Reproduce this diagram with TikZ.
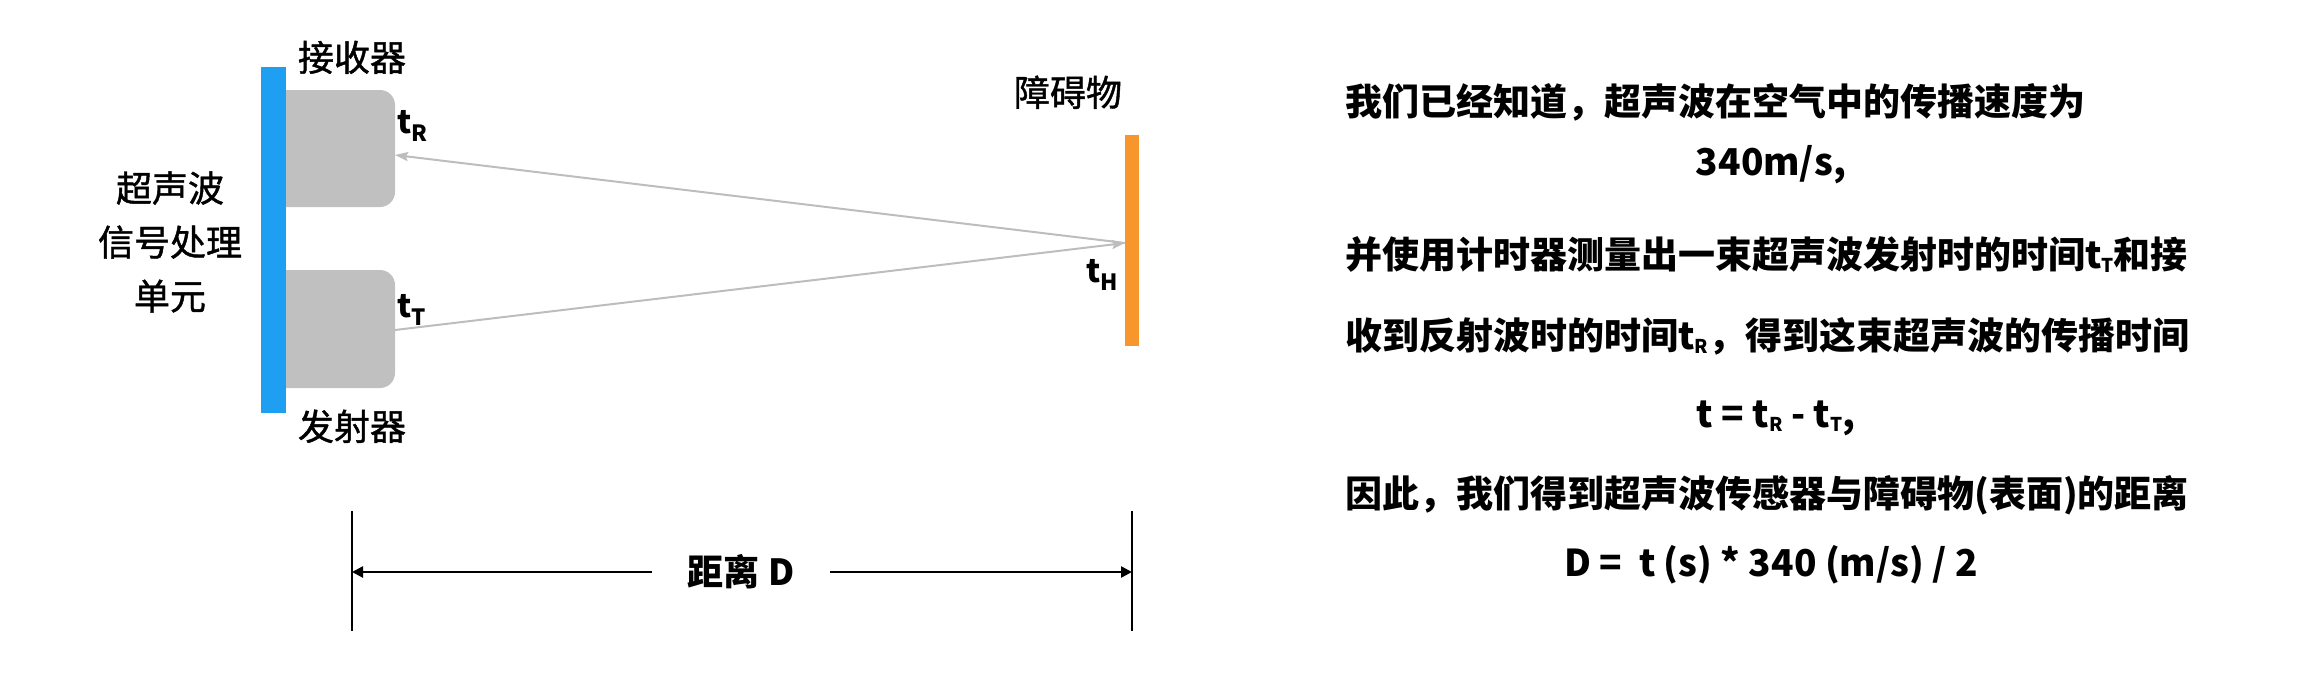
\documentclass[tikz,border=0pt]{standalone}
\usepackage{fontspec}
\setmainfont{Noto Sans CJK SC}
\newfontfamily\medfont[FakeBold=1.2]{Noto Sans CJK SC}
\usetikzlibrary{arrows.meta}
\definecolor{barblue}{HTML}{1E9FF2}
\definecolor{barorange}{HTML}{F7962D}
\definecolor{boxgray}{HTML}{C0C0C0}
\definecolor{raygray}{HTML}{BDBDBD}
\newcommand{\lowsub}[1]{\raisebox{-0.12em}{\fontsize{19}{20}\selectfont #1}}
\begin{document}
\begin{tikzpicture}[x=1pt,y=-1pt,
  bar/.style={inner sep=0pt, outer sep=0pt, draw=none},
  unitbox/.style={fill=boxgray, draw=none, rounded corners=15pt, inner sep=0pt, outer sep=0pt, minimum width=129pt},
  lbl/.style={inner sep=0pt, font=\medfont\fontsize{36}{54}\selectfont},
  tlbl/.style={inner sep=0pt, anchor=base west, font=\fontsize{32}{38}\selectfont\bfseries},
  txt/.style={inner sep=0pt, font=\fontsize{37}{44}\selectfont\bfseries},
  ray/.style={draw=raygray, line width=2pt, -{Stealth[length=13pt,width=9pt,inset=2pt]}},
  dimline/.style={draw=black, line width=1.5pt},
  dimarrow/.style={draw=black, line width=2.5pt, -{Triangle[length=11pt,width=11pt]}}
]
\useasboundingbox (0,0) rectangle (2302,672);

% receiver / transmitter boxes
\node[unitbox, minimum height=117pt] (rx) at (330.5,148.5) {};
\node[unitbox, minimum height=118pt] (tx) at (330.5,329) {};
% signal processing bar
\node[bar, fill=barblue, minimum width=25pt, minimum height=346pt] (unit) at (273.5,240) {};
% obstacle
\node[bar, fill=barorange, minimum width=14pt, minimum height=211pt] (obst) at (1132,240.5) {};

% labels
\node[lbl, anchor=base] (rxl) at (352,71) {接收器};
\node[lbl, anchor=base] (txl) at (352,440) {发射器};
\node[lbl, align=center] (unitl) at (170,242) {超声波\\信号处理\\单元};
\node[lbl, anchor=base] (obstl) at (1068,106) {障碍物};
\node[tlbl] (tr) at (397,133) {t\textsubscript{R}};
\node[tlbl] (tt) at (397,317) {t\textsubscript{T}};
\node[tlbl] (th) at (1086,282) {t\textsubscript{H}};

% rays
\coordinate (hit) at ([yshift=-2.5pt]obst.west);
\coordinate (rxin) at ([yshift=-6.5pt]rx.east);
\coordinate (txout) at ([yshift=-1pt]tx.east);
\draw[ray] (txout) -- (hit);
\draw[ray] (hit) -- (rxin);

% dimension
\coordinate (dlt) at (352,511);
\coordinate (dlb) at (352,631);
\coordinate (drt) at (1132,511);
\coordinate (drb) at (1132,631);
\draw[dimline] (dlt) -- (dlb);
\draw[dimline] (drt) -- (drb);
\node[inner ysep=0pt, inner xsep=36pt, font=\fontsize{36}{44}\selectfont\bfseries] (dim) at (741,572) {距离 D};
\draw[dimarrow] (dim.west) -- (dlt |- dim.west);
\draw[dimarrow] (dim.east) -- (drt |- dim.east);

% explanation text
\node[txt, anchor=base west] (l1) at (1345,115) {我们已经知道，超声波在空气中的传播速度为};
\node[txt, anchor=base] (l2) at (1771,175) {340m/s,};
\node[txt, anchor=base west] (l3) at (1345,268) {并使用计时器测量出一束超声波发射时的时间t\lowsub{T}和接};
\node[txt, anchor=base west] (l4) at (1345,349) {收到反射波时的时间t\lowsub{R}，得到这束超声波的传播时间};
\node[txt, anchor=base] (l5) at (1776,427) {t = t\lowsub{R} - t\lowsub{T},};
\node[txt, anchor=base west] (l6) at (1345,507) {因此，我们得到超声波传感器与障碍物(表面)的距离};
\node[txt, anchor=base] (l7) at (1771,576) {D =~~t (s) * 340 (m/s) / 2};
\end{tikzpicture}
\end{document}
